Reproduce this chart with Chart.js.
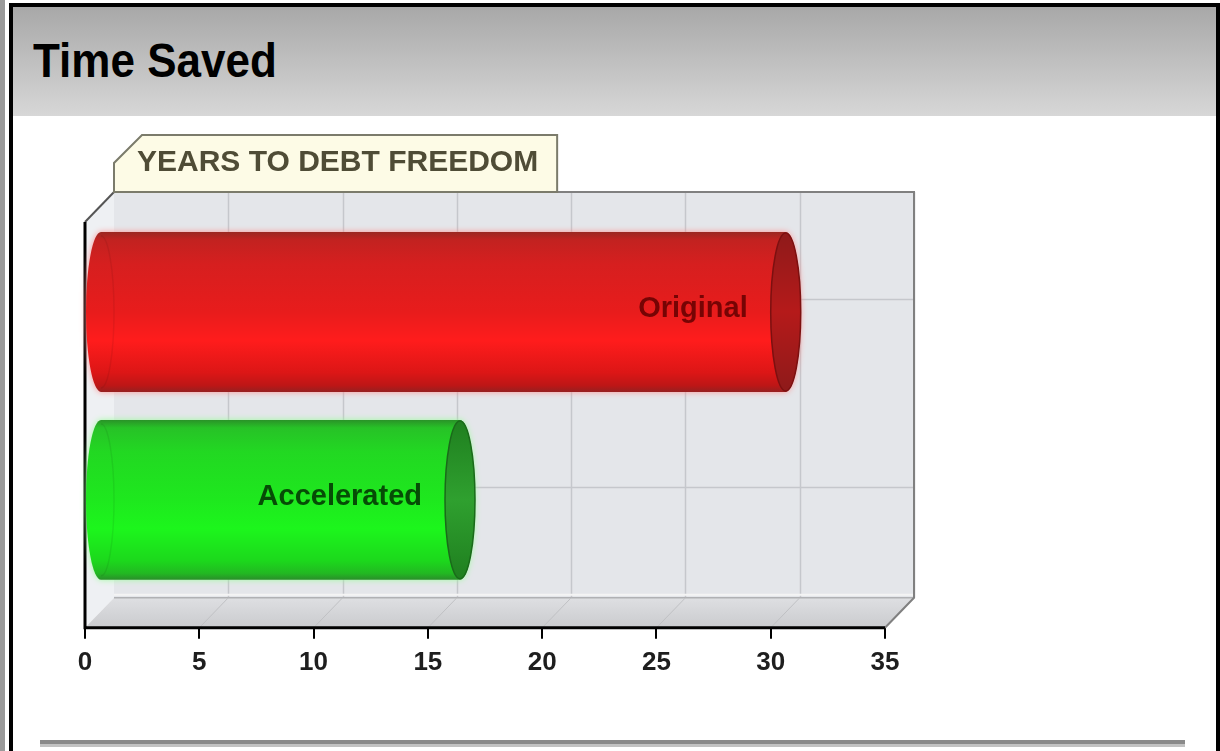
<!DOCTYPE html>
<html>
<head>
<meta charset="utf-8">
<script src="https://cdn.jsdelivr.net/npm/chart.js@4/dist/chart.umd.min.js"></script>
<style>
html,body{margin:0;padding:0;background:#fff;width:1220px;height:751px;overflow:hidden;}
#page{position:relative;width:1220px;height:751px;background:#fff;font-family:"Liberation Sans",Arial,sans-serif;}
#lstrip{position:absolute;left:0;top:0;width:5px;height:751px;background:#9a9a9a;}
#lborder{position:absolute;left:9px;top:3px;width:4px;height:748px;background:#000;}
#rborder{position:absolute;left:1216px;top:3px;width:4px;height:748px;background:#000;}
#tborder{position:absolute;left:9px;top:3px;width:1211px;height:4px;background:#000;}
#header{position:absolute;left:13px;top:7px;width:1203px;height:109px;background:linear-gradient(#a8a8a8,#d7d7d7);}
#title{position:absolute;left:33px;top:36px;margin:0;font-weight:bold;font-size:44px;line-height:44px;color:#000;transform:scaleY(1.1);transform-origin:left top;white-space:nowrap;}
#bottomline{position:absolute;left:40px;top:740px;width:1145px;height:7px;background:linear-gradient(#8a8a8a 0,#8a8a8a 57%,#c2c2c2 57%,#c2c2c2 100%);}
canvas{position:absolute;left:0;top:0;}
</style>
</head>
<body>
<div id="page">
  <div id="lstrip"></div>
  <div id="header"></div>
  <div id="tborder"></div>
  <div id="lborder"></div>
  <div id="rborder"></div>
  <h1 id="title">Time Saved</h1>
  <div id="bottomline"></div>
  <canvas id="c" width="1220" height="751"></canvas>
</div>
<script>
// ---- data ----
const categories = ['Original', 'Accelerated'];
const yearsToDebtFreedom = [30, 15.75];
const xTickValues = [0, 5, 10, 15, 20, 25, 30, 35];
const chartTitle = 'YEARS TO DEBT FREEDOM';

// ---- styles ----
const FONT = '"Liberation Sans", Arial, sans-serif';
const DEPTH_X = 29, DEPTH_Y = 30, FRONT_EXTRA = 30;
const CYL_OX = 15, CYL_OY = -34, CAP_RX = 15;
const barStyles = [
  { stops: [[0,'#9a2822'],[0.05,'#c22220'],[0.2,'#d61f1f'],[0.5,'#e81c1c'],[0.68,'#ff1c1c'],[0.88,'#dc1616'],[0.96,'#bd1616'],[1,'#962020']],
    cap: [[0,'#8e1a1a'],[0.5,'#b51a1a'],[1,'#8e1a1a']], capStroke:'#7c1010', glow:'rgba(255,140,140,0.9)', text:'#760404' },
  { stops: [[0,'#2a9228'],[0.05,'#27c227'],[0.2,'#22d822'],[0.5,'#1ee81e'],[0.68,'#1cf61c'],[0.88,'#1cd81c'],[0.96,'#22b822'],[1,'#2a8e2a']],
    cap: [[0,'#1f7f1f'],[0.5,'#2fa02f'],[1,'#1f7f1f']], capStroke:'#1a6a1a', glow:'rgba(150,255,150,0.9)', text:'#064c06' }
];

const threeD = {
  id: 'threeD',
  beforeDatasetsDraw(chart) {
    const ctx = chart.ctx;
    const { left, right, top, bottom } = chart.chartArea;
    const xs = chart.scales.x;
    const frontTop = top - FRONT_EXTRA;
    const wallTop = frontTop - DEPTH_Y;
    const backBottom = bottom - DEPTH_Y;
    ctx.save();
    // left side wall
    ctx.fillStyle = '#eef0f3';
    ctx.beginPath();
    ctx.moveTo(left, frontTop); ctx.lineTo(left + DEPTH_X, wallTop);
    ctx.lineTo(left + DEPTH_X, backBottom); ctx.lineTo(left, bottom); ctx.closePath(); ctx.fill();
    // back wall
    ctx.fillStyle = '#e4e6ea';
    ctx.fillRect(left + DEPTH_X, wallTop, right - left, backBottom - wallTop);
    // back wall vertical grid lines
    ctx.strokeStyle = '#c5c7cc'; ctx.lineWidth = 1.5;
    xTickValues.forEach(v => {
      if (v === 0) return;
      const x = Math.round(xs.getPixelForValue(v)) + DEPTH_X + 0.5;
      ctx.beginPath(); ctx.moveTo(x, wallTop); ctx.lineTo(x, backBottom); ctx.stroke();
    });
    // back wall horizontal grid lines
    const meta = chart.getDatasetMeta(0);
    meta.data.forEach(el => {
      const y = Math.round(el.y + CYL_OY - 13) + 0.5;
      ctx.beginPath(); ctx.moveTo(left + DEPTH_X, y); ctx.lineTo(right + DEPTH_X, y); ctx.stroke();
    });
    // floor
    const fg = ctx.createLinearGradient(0, backBottom, 0, bottom);
    fg.addColorStop(0, '#dedfe2'); fg.addColorStop(1, '#cacbce');
    ctx.fillStyle = fg;
    ctx.beginPath();
    ctx.moveTo(left, bottom); ctx.lineTo(right, bottom);
    ctx.lineTo(right + DEPTH_X, backBottom); ctx.lineTo(left + DEPTH_X, backBottom); ctx.closePath(); ctx.fill();
    ctx.strokeStyle = '#f4f4f4'; ctx.lineWidth = 2;
    ctx.beginPath(); ctx.moveTo(left + DEPTH_X, backBottom - 3); ctx.lineTo(right + DEPTH_X, backBottom - 3); ctx.stroke();
    ctx.strokeStyle = '#b0b1b4'; ctx.lineWidth = 1.5;
    ctx.beginPath(); ctx.moveTo(left + DEPTH_X, backBottom); ctx.lineTo(right + DEPTH_X, backBottom); ctx.stroke();
    // floor grid diagonals
    ctx.strokeStyle = '#c0c1c4'; ctx.lineWidth = 1;
    xTickValues.forEach(v => {
      if (v === 0 || v === 35) return;
      const x = xs.getPixelForValue(v);
      ctx.beginPath(); ctx.moveTo(x, bottom); ctx.lineTo(x + DEPTH_X, backBottom); ctx.stroke();
    });
    // edges
    ctx.strokeStyle = '#808080'; ctx.lineWidth = 2;
    ctx.beginPath();
    ctx.moveTo(left + DEPTH_X, wallTop); ctx.lineTo(right + DEPTH_X, wallTop);
    ctx.lineTo(right + DEPTH_X, backBottom); ctx.lineTo(right, bottom);
    ctx.stroke();
    ctx.strokeStyle = '#555';
    ctx.beginPath(); ctx.moveTo(left, frontTop); ctx.lineTo(left + DEPTH_X, wallTop); ctx.stroke();
    // front axis lines (vertical and horizontal)
    ctx.strokeStyle = '#000'; ctx.lineWidth = 3;
    ctx.beginPath(); ctx.moveTo(left, frontTop); ctx.lineTo(left, bottom); ctx.lineTo(right, bottom); ctx.stroke();
    // title tab
    ctx.font = 'bold 30px ' + FONT;
    const tx = left + DEPTH_X + 23;
    const tw = ctx.measureText(chartTitle).width;
    const tabR = tx + tw + 19;
    ctx.fillStyle = '#fdfbe6'; ctx.strokeStyle = '#7b7b6b'; ctx.lineWidth = 2;
    ctx.beginPath();
    ctx.moveTo(left + DEPTH_X, wallTop); ctx.lineTo(left + DEPTH_X, wallTop - 29);
    ctx.lineTo(left + DEPTH_X + 28, wallTop - 57); ctx.lineTo(tabR, wallTop - 57);
    ctx.lineTo(tabR, wallTop); ctx.closePath(); ctx.fill(); ctx.stroke();
    ctx.fillStyle = '#4f4c36'; ctx.textAlign = 'left'; ctx.textBaseline = 'alphabetic';
    ctx.fillText(chartTitle, tx, wallTop - 21);
    ctx.restore();
  },
  afterDatasetsDraw(chart) {
    const ctx = chart.ctx;
    const meta = chart.getDatasetMeta(0);
    meta.data.forEach((el, i) => {
      const st = barStyles[i % barStyles.length];
      const x0 = el.base + CYL_OX, x1 = el.x + CYL_OX;
      const yc = el.y + CYL_OY, r = el.height / 2;
      ctx.save();
      const g = ctx.createLinearGradient(0, yc - r, 0, yc + r);
      st.stops.forEach(s => g.addColorStop(s[0], s[1]));
      // body with glow
      ctx.shadowColor = st.glow; ctx.shadowBlur = 6;
      ctx.fillStyle = g;
      ctx.beginPath();
      ctx.moveTo(x1, yc - r);
      ctx.lineTo(x0, yc - r);
      ctx.ellipse(x0, yc, CAP_RX, r, 0, -Math.PI / 2, Math.PI / 2, true);
      ctx.lineTo(x1, yc + r);
      ctx.ellipse(x1, yc, CAP_RX, r, 0, Math.PI / 2, -Math.PI / 2, true);
      ctx.closePath();
      ctx.fill();
      ctx.shadowBlur = 0; ctx.shadowColor = 'transparent';
      // faint inner edge of left cap
      ctx.strokeStyle = 'rgba(0,0,0,0.07)'; ctx.lineWidth = 1.5;
      ctx.beginPath(); ctx.ellipse(x0, yc, CAP_RX - 2, r - 4, 0, -Math.PI / 2, Math.PI / 2, false); ctx.stroke();
      // right end cap
      const cg = ctx.createLinearGradient(0, yc - r, 0, yc + r);
      st.cap.forEach(s => cg.addColorStop(s[0], s[1]));
      ctx.fillStyle = cg; ctx.strokeStyle = st.capStroke; ctx.lineWidth = 1.5;
      ctx.beginPath(); ctx.ellipse(x1, yc, CAP_RX, r - 1, 0, 0, Math.PI * 2); ctx.fill(); ctx.stroke();
      // category label
      ctx.font = 'bold 29px ' + FONT;
      ctx.fillStyle = st.text; ctx.textAlign = 'right'; ctx.textBaseline = 'middle';
      ctx.fillText(chart.data.labels[i], x1 - 38, yc - 3);
      ctx.restore();
    });
  }
};

new Chart(document.getElementById('c').getContext('2d'), {
  type: 'bar',
  data: {
    labels: categories,
    datasets: [{
      data: yearsToDebtFreedom,
      backgroundColor: 'rgba(0,0,0,0)',
      borderWidth: 0,
      barPercentage: 0.851,
      categoryPercentage: 1
    }]
  },
  options: {
    indexAxis: 'y',
    responsive: false,
    animation: false,
    events: [],
    layout: { padding: { left: 85, right: 335, top: 252, bottom: 65 } },
    plugins: { legend: { display: false }, tooltip: { enabled: false }, title: { display: false } },
    scales: {
      x: {
        type: 'linear', min: 0, max: 35,
        afterBuildTicks: s => { s.ticks = xTickValues.map(v => ({ value: v })); },
        ticks: { font: { family: FONT, size: 26, weight: 'bold' }, color: '#1e1e1e', padding: 8, maxRotation: 0, autoSkip: false },
        grid: { drawOnChartArea: false, drawTicks: true, tickLength: 11, color: '#000', lineWidth: 2 },
        border: { display: true, color: '#000', width: 3 }
      },
      y: { display: false }
    }
  },
  plugins: [threeD]
});
</script>
</body>
</html>
